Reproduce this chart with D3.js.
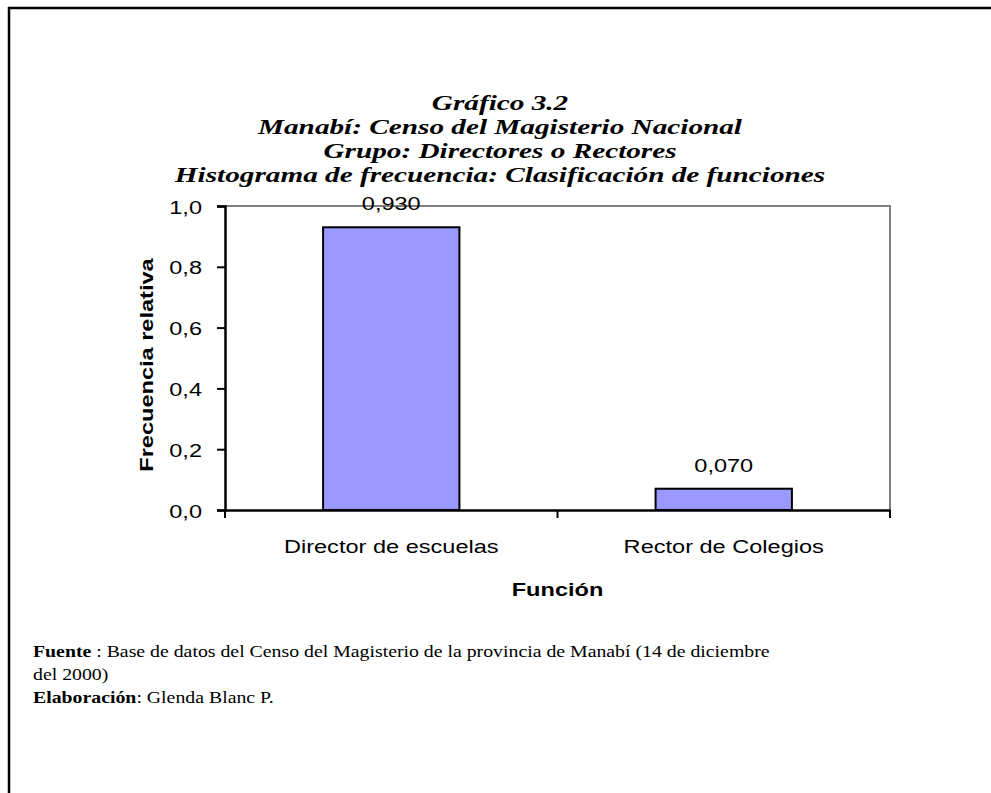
<!DOCTYPE html>
<html>
<head>
<meta charset="utf-8">
<script src="https://cdn.jsdelivr.net/npm/d3@7"></script>
<style>
  html, body { margin: 0; padding: 0; background: #fff; }
  svg { display: block; }
</style>
</head>
<body>
<svg id="chart" width="991" height="793"></svg>
<script>
// ---- data ----
const categories = ["Director de escuelas", "Rector de Colegios"];
const values = [0.930, 0.070];
const valueLabels = ["0,930", "0,070"];
const yTicks = [0, 0.2, 0.4, 0.6, 0.8, 1.0];
const titleLines = [
  "Gráfico 3.2",
  "Manabí: Censo del Magisterio Nacional",
  "Grupo: Directores o Rectores",
  "Histograma de frecuencia: Clasificación de funciones"
];
const yTitle = "Frecuencia relativa";
const xTitle = "Función";
const footer = [
  [{b: "Fuente"}, {t: " : Base de datos del Censo del Magisterio de la provincia de Manabí (14 de diciembre"}],
  [{t: "del 2000)"}],
  [{b: "Elaboración"}, {t: ": Glenda Blanc P."}]
];

// ---- layout ----
const SX = 1.24; // horizontal text stretch seen in the reference
const svg = d3.select("#chart");
const plot = {left: 225, right: 890, top: 206, bottom: 510};
const sans = "'Liberation Sans', Arial, sans-serif";
const serif = "'Liberation Serif', 'Times New Roman', serif";

// frame
svg.append("line").attr("x1", 8).attr("x2", 991).attr("y1", 8).attr("y2", 8)
  .attr("stroke", "#000").attr("stroke-width", 2.5);
svg.append("line").attr("x1", 9).attr("x2", 9).attr("y1", 7).attr("y2", 793)
  .attr("stroke", "#000").attr("stroke-width", 2.5);

// title
titleLines.forEach((line, i) => {
  svg.append("text")
    .attr("transform", `translate(500,${110 + i * 24}) scale(1.36,1)`)
    .attr("text-anchor", "middle")
    .attr("font-family", serif).attr("font-style", "italic").attr("font-weight", "bold")
    .attr("font-size", 21.5).attr("fill", "#000")
    .text(line);
});

// scales
const y = d3.scaleLinear().domain([0, 1]).range([plot.bottom, plot.top]);
const xCat = d3.scaleBand().domain(categories).range([plot.left, plot.right]).padding(0);
const xBar = d3.scaleBand().domain(categories).range([plot.left, plot.right])
  .paddingInner(0.59).paddingOuter(0.295);

// plot border (top & right, gray)
svg.append("path")
  .attr("d", `M${plot.left},${plot.top}H${plot.right}V${plot.bottom}`)
  .attr("fill", "none").attr("stroke", "#808080").attr("stroke-width", 2);

// bars
svg.append("g").selectAll("rect").data(values).join("rect")
  .attr("x", (d, i) => xBar(categories[i]))
  .attr("width", xBar.bandwidth())
  .attr("y", d => y(d))
  .attr("height", d => y(0) - y(d))
  .attr("fill", "#9999FF").attr("stroke", "#000").attr("stroke-width", 2);

// value labels
svg.append("g").selectAll("text").data(values).join("text")
  .attr("transform", (d, i) => `translate(${xBar(categories[i]) + xBar.bandwidth() / 2},${y(d) - 17}) scale(${SX},1)`)
  .attr("text-anchor", "middle")
  .attr("font-family", sans).attr("font-size", 19).attr("fill", "#000")
  .text((d, i) => valueLabels[i]);

// y axis
const fmt = d3.formatLocale({decimal: ",", thousands: ".", grouping: [3], currency: ["", ""]}).format(".1f");
const yAxis = svg.append("g").attr("transform", `translate(${plot.left},0)`)
  .call(d3.axisLeft(y).tickValues(yTicks).tickFormat(fmt).tickSize(8).tickPadding(0));
yAxis.select(".domain").attr("stroke", "#000").attr("stroke-width", 2.5);
yAxis.selectAll(".tick line").attr("stroke", "#000").attr("stroke-width", 2);
yAxis.selectAll(".tick text")
  .attr("x", null).attr("dy", null)
  .attr("transform", `translate(-23,7) scale(${SX},1)`)
  .attr("font-family", sans).attr("font-size", 19).attr("fill", "#000");

// x axis line + boundary ticks
const xAxis = svg.append("g").attr("transform", `translate(0,${plot.bottom})`)
  .call(d3.axisBottom(xCat).tickSize(0).tickFormat(""));
xAxis.select(".domain").attr("stroke", "#000").attr("stroke-width", 2.5);
xAxis.selectAll(".tick").remove();
const bounds = categories.map(c => xCat(c)).concat([xCat(categories[categories.length - 1]) + xCat.step()]);
xAxis.selectAll("line.b").data(bounds).join("line").attr("class", "b")
  .attr("x1", d => d).attr("x2", d => d).attr("y1", 0).attr("y2", 8)
  .attr("stroke", "#000").attr("stroke-width", 2);
svg.append("g").selectAll("text").data(categories).join("text")
  .attr("transform", d => `translate(${xCat(d) + xCat.step() / 2},${plot.bottom + 43}) scale(${SX},1)`)
  .attr("text-anchor", "middle")
  .attr("font-family", sans).attr("font-size", 19).attr("fill", "#000")
  .text(d => d);

// axis titles
svg.append("text")
  .attr("transform", `translate(${(plot.left + plot.right) / 2},596) scale(${SX},1)`)
  .attr("text-anchor", "middle")
  .attr("font-family", sans).attr("font-weight", "bold").attr("font-size", 19).attr("fill", "#000")
  .text(xTitle);
svg.append("text")
  .attr("transform", `translate(153,${(plot.top + plot.bottom) / 2 + 7}) rotate(-90) scale(${SX},1)`)
  .attr("text-anchor", "middle")
  .attr("font-family", sans).attr("font-weight", "bold").attr("font-size", 19).attr("fill", "#000")
  .text(yTitle);

// footer
footer.forEach((parts, i) => {
  const t = svg.append("text")
    .attr("transform", `translate(33,${657 + i * 23}) scale(1.2,1)`)
    .attr("font-family", serif).attr("font-size", 16.5).attr("fill", "#000");
  parts.forEach(p => {
    t.append("tspan").attr("font-weight", p.b ? "bold" : "normal").text(p.b || p.t);
  });
});
</script>
</body>
</html>
